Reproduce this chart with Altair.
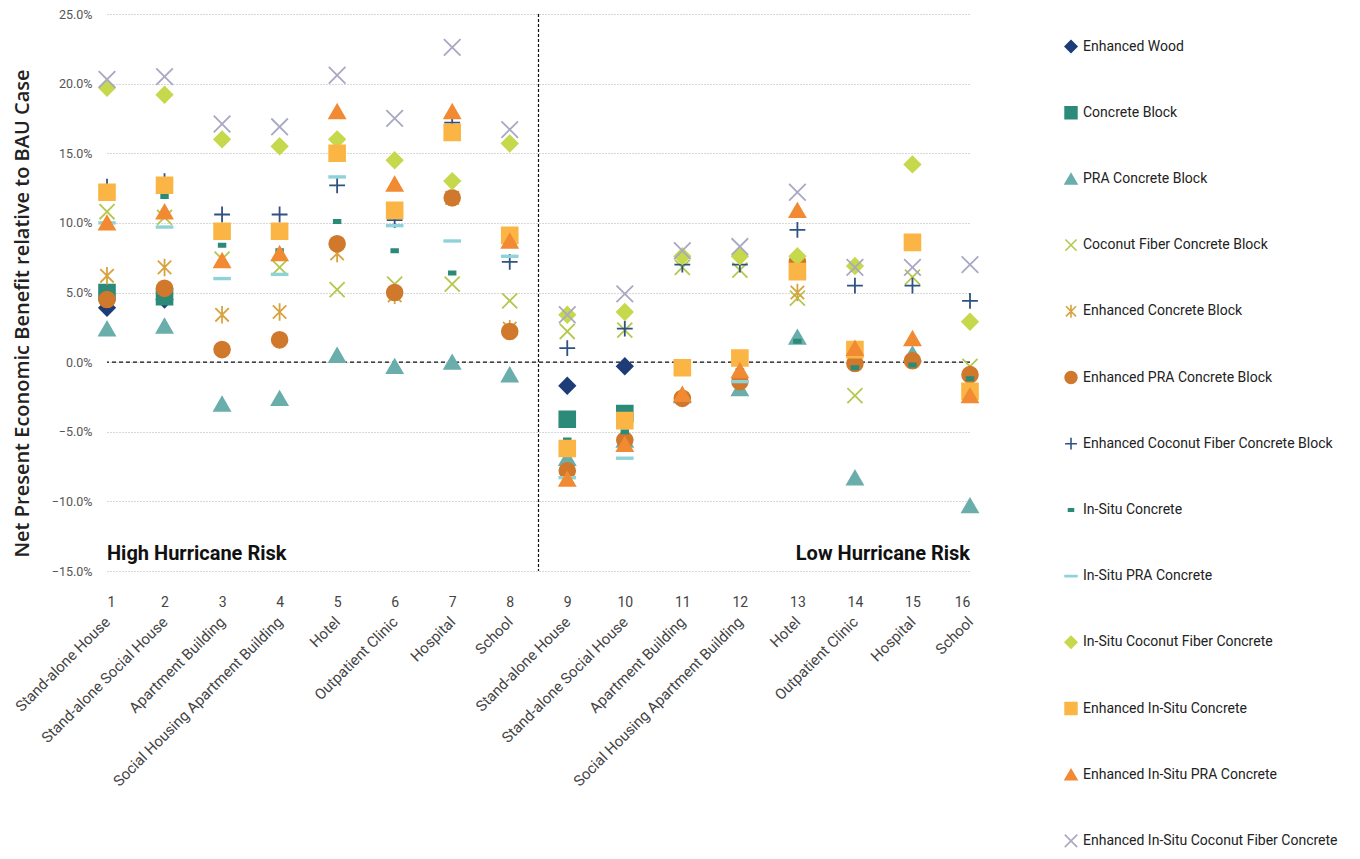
import altair as alt
import pandas as pd

categories = list(range(1, 17))
building_types = [
    "Stand-alone House", "Stand-alone Social House", "Apartment Building",
    "Social Housing Apartment Building", "Hotel", "Outpatient Clinic", "Hospital", "School",
    "Stand-alone House", "Stand-alone Social House", "Apartment Building",
    "Social Housing Apartment Building", "Hotel", "Outpatient Clinic", "Hospital", "School",
]

series_names = [
    "Enhanced Wood", "Concrete Block", "PRA Concrete Block", "Coconut Fiber Concrete Block",
    "Enhanced Concrete Block", "Enhanced PRA Concrete Block",
    "Enhanced Coconut Fiber Concrete Block", "In-Situ Concrete", "In-Situ PRA Concrete",
    "In-Situ Coconut Fiber Concrete", "Enhanced In-Situ Concrete",
    "Enhanced In-Situ PRA Concrete", "Enhanced In-Situ Coconut Fiber Concrete",
]

N = None
enhanced_wood = [3.9, 4.5, N, N, N, N, N, N, -1.7, -0.3, N, N, N, N, N, N]
concrete_block = [5.0, 4.7, N, N, N, N, N, N, -4.1, -3.7, N, N, N, N, N, N]
pra_concrete_block = [2.4, 2.6, -3.0, -2.6, 0.5, -0.3, 0.0, -0.9, -6.9, -5.6, -2.4, -1.9, 1.8, -8.3, 0.6, -10.3]
coconut_fiber_block = [10.8, 10.4, 7.4, 6.8, 5.2, 5.6, 5.6, 4.4, 2.2, 2.3, 6.8, 6.6, 4.6, -2.4, 6.1, -0.3]
enhanced_concrete_block = [6.2, 6.8, 3.4, 3.6, 7.8, 4.8, 11.8, 2.4, N, N, N, N, 5.0, N, N, N]
enhanced_pra_block = [4.5, 5.3, 0.9, 1.6, 8.5, 5.0, 11.8, 2.2, -7.8, -5.6, -2.6, -1.4, 7.2, -0.1, 0.1, -0.9]
enhanced_coconut_block = [12.6, 13.0, 10.6, 10.6, 12.7, 10.2, 17.2, 7.2, 1.0, 2.4, 7.0, 7.0, 9.5, 5.5, 5.5, 4.4]
in_situ_concrete = [N, 11.9, 8.4, 8.0, 10.1, 8.0, 6.4, N, -5.6, -5.0, N, -0.6, 1.5, -0.4, -0.2, -1.2]
in_situ_pra = [10.0, 9.7, 6.0, 6.3, 13.3, 9.8, 8.7, 7.6, -8.3, -6.9, N, -1.4, N, N, N, N]
in_situ_coconut = [19.7, 19.2, 16.0, 15.5, 16.0, 14.5, 13.0, 15.7, 3.4, 3.6, 7.6, 7.6, 7.6, 6.9, 14.2, 2.9]
enhanced_in_situ_concrete = [12.2, 12.7, 9.4, 9.4, 15.0, 10.9, 16.5, 9.1, -6.2, -4.2, -0.4, 0.3, 6.5, 0.9, 8.6, -2.1]
enhanced_in_situ_pra = [10.0, 10.8, 7.3, 7.8, 18.0, 12.8, 18.0, 8.7, -8.4, -5.9, -2.3, -0.6, 10.9, 1.0, 1.7, -2.4]
enhanced_in_situ_coconut = [20.3, 20.5, 17.1, 16.9, 20.6, 17.5, 22.6, 16.7, 3.4, 4.9, 8.0, 8.3, 12.2, 6.8, 6.8, 7.0]

series_values = [
    enhanced_wood, concrete_block, pra_concrete_block, coconut_fiber_block,
    enhanced_concrete_block, enhanced_pra_block, enhanced_coconut_block,
    in_situ_concrete, in_situ_pra, in_situ_coconut, enhanced_in_situ_concrete,
    enhanced_in_situ_pra, enhanced_in_situ_coconut,
]

colors = [
    "#1d3c78", "#2b8a78", "#6aaeab", "#b3c84c", "#d8a23e", "#d0782b", "#2f5282",
    "#2b8a78", "#8fd3d9", "#c6d84b", "#fbb545", "#f28a33", "#a8a8c4",
]
shapes = [
    "diamond", "square", "triangle-up",
    "M-0.95,-0.95L0.95,0.95M-0.95,0.95L0.95,-0.95",
    "M-0.85,-0.85L0.85,0.85M-0.85,0.85L0.85,-0.85M0,-1.1L0,1.1",
    "circle",
    "M-1,0L1,0M0,-1L0,1",
    "M-0.42,-0.2L0.42,-0.2L0.42,0.2L-0.42,0.2Z",
    "M-1,-0.1L1,-0.1L1,0.1L-1,0.1Z",
    "diamond", "square", "triangle-up",
    "M-1.05,-1.05L1.05,1.05M-1.05,1.05L1.05,-1.05",
]

rows = []
for order, (name, vals) in enumerate(zip(series_names, series_values)):
    for cat, v in zip(categories, vals):
        if v is not None:
            rows.append({"series": name, "order": order, "cat": cat, "value": v})
df = pd.DataFrame(rows)

high_label = pd.DataFrame({"label": ["High Hurricane Risk"], "cat": [1], "value": [-14.2]})
low_label = pd.DataFrame({"label": ["Low  Hurricane Risk"], "cat": [16], "value": [-14.2]})

FONT = "Roboto"
names_js = "[" + ",".join("'" + b + "'" for b in building_types) + "]"

W, H = 863, 557
xscale = alt.Scale(domain=[1, 16], nice=False, zero=False)
yscale = alt.Scale(domain=[-15, 25], nice=False)

yaxis = alt.Axis(
    values=[-15, -10, -5, 0, 5, 10, 15, 20, 25],
    labelExpr="format(datum.value, '.1f') + '%'",
    title="Net Present Economic Benefit relative to  BAU Case",
    titleFont="Open Sans", titleFontSize=20, titleFontWeight=600, titleColor="#222",
    titleX=-85, titleY=299, titleAlign="center", titleBaseline="middle", titleAngle=270,
    labelFont=FONT, labelFontSize=12.5, labelColor="#555", labelPadding=15,
    grid=True, gridColor="#b0b0b0", gridDash=[1, 2], gridWidth=1,
    domain=False, ticks=False, labelBound=False,
)

num_axis = alt.Axis(
    values=categories, format="d", orient="bottom", title=None,
    labelFont=FONT, labelFontSize=14, labelColor="#444", labelPadding=24,
    grid=False, domain=False, ticks=False,
)
name_axis = alt.Axis(
    values=categories, orient="bottom", title=None,
    labelExpr=names_js + "[datum.value - 1]",
    labelAngle=-45, labelAlign="right", labelBaseline="middle",
    labelFont=FONT, labelFontSize=15, labelColor="#444", labelPadding=48,
    grid=False, domain=False, ticks=False, labelOverlap=False, labelBound=False,
    labelLimit=400,
)

legend = alt.Legend(
    title=None, orient="none", legendX=957, legendY=24,
    labelFont=FONT, labelFontSize=14, labelColor="#222",
    symbolSize=140, symbolStrokeWidth=1.6, rowPadding=49.2, clipHeight=17,
    labelOffset=5, labelLimit=400,
)

points = alt.Chart(df).mark_point(filled=True, size=250, strokeWidth=1.8, opacity=1).encode(
    x=alt.X("cat:Q", scale=xscale, axis=num_axis),
    y=alt.Y("value:Q", scale=yscale, axis=yaxis),
    fill=alt.Fill("series:N", scale=alt.Scale(domain=series_names, range=colors), legend=legend),
    stroke=alt.Stroke("series:N", scale=alt.Scale(domain=series_names, range=colors), legend=legend),
    shape=alt.Shape("series:N", scale=alt.Scale(domain=series_names, range=shapes), legend=legend),
    order=alt.Order("order:Q"),
)

zero_rule = alt.Chart(pd.DataFrame({"value": [0]})).mark_rule(
    color="#111", strokeDash=[4, 3], strokeWidth=1.3
).encode(y=alt.Y("value:Q", scale=yscale))

divider = alt.Chart(pd.DataFrame({"cat": [8.5]})).mark_rule(
    color="#111", strokeDash=[3, 2], strokeWidth=1.2
).encode(x=alt.X("cat:Q", scale=xscale, axis=name_axis))

def risk_text(data, align):
    return alt.Chart(data).mark_text(
        font=FONT, fontSize=20, fontWeight="bold", color="#111",
        baseline="alphabetic", align=align,
    ).encode(
        x=alt.X("cat:Q", scale=xscale, axis=None),
        y=alt.Y("value:Q", scale=yscale),
        text="label:N",
    )

chart = alt.layer(
    zero_rule, divider, points, risk_text(high_label, "left"), risk_text(low_label, "right")
).resolve_axis(x="independent").properties(
    width=W, height=H, background="white",
    autosize=alt.AutoSizeParams(type="none"),
    padding={"left": 99, "top": 6, "right": 372, "bottom": 278},
).configure_view(stroke=None)

chart.save("out.html", embed_options={"renderer": "svg", "actions": False})
